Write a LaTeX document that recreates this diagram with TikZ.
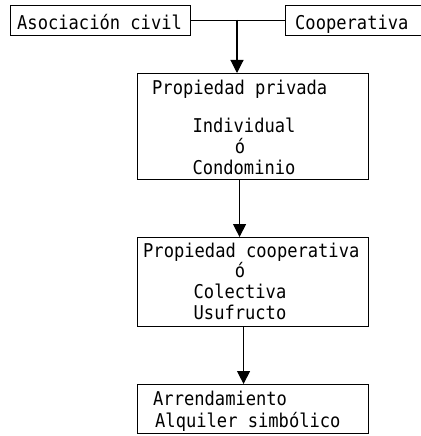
\documentclass[tikz,border=0pt]{standalone}
\usepackage{fontspec}
\setmonofont{DejaVu Sans Mono}[FakeStretch=0.9]
\usetikzlibrary{arrows.meta}
\begin{document}
\begin{tikzpicture}[x=1pt,y=-1pt,
  box/.style={draw, line width=1.1pt, inner sep=0pt, anchor=north west},
  txt/.style={font=\ttfamily\fontsize{19}{21}\selectfont, inner sep=0pt},
  lbl/.style={txt, anchor=base west},
  ctr/.style={txt, anchor=base},
  link/.style={line width=1.1pt},
  arr/.style={line width=1.1pt, -{Triangle[width=13pt,length=13pt]}}]
\useasboundingbox (0,0) rectangle (420,436);
% boxes
\node[box, minimum width=180pt, minimum height=30pt] (asoc) at (10,5) {};
\node[box, minimum width=140pt, minimum height=30pt] (coop) at (285,5) {};
\node[box, minimum width=231pt, minimum height=106pt] (priv) at (137,73) {};
\node[box, minimum width=231pt, minimum height=89pt] (pcoop) at (137,237) {};
\node[box, minimum width=231pt, minimum height=49pt] (arre) at (137,384) {};
% texts
\node[lbl] (tasoc) at (17,30) {Asociación civil};
\node[lbl] (tcoop) at (295,30) {Cooperativa};
\node[lbl] (tpriv) at (152,94) {Propiedad privada};
\node[ctr] (tind) at (244,132) {Individual};
\node[ctr] (to1) at (240,153) {ó};
\node[ctr] (tcond) at (244,174) {Condominio};
\node[lbl] (tpcoop) at (143,257) {Propiedad cooperativa};
\node[ctr] (to2) at (240,277) {ó};
\node[ctr] (tcol) at (240,298) {Colectiva};
\node[ctr] (tusu) at (240,319) {Usufructo};
\node[lbl] (tarr) at (153,405) {Arrendamiento};
\node[lbl] (talq) at (155,427) {Alquiler simbólico};
% connectors
\draw[link] (asoc.east) -- (coop.west);
\coordinate (j) at (237,20);
\draw[arr] (j) -- (priv.north -| j);
\draw[arr] ([xshift=-13.5pt]priv.south) -- ([xshift=-13.5pt]priv.south |- pcoop.north);
\draw[arr] ([xshift=-9.5pt]pcoop.south) -- ([xshift=-9.5pt]pcoop.south |- arre.north);
\end{tikzpicture}
\end{document}
